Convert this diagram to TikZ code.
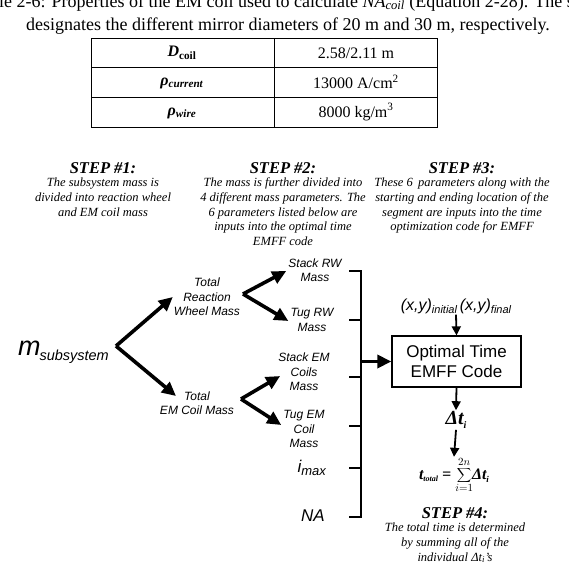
\documentclass[tikz,border=0pt]{standalone}
\usepackage{fontspec}
\setmainfont{Liberation Serif}
\setsansfont{Liberation Sans}
\usetikzlibrary{positioning, arrows.meta, calc}

\begin{document}
\begin{tikzpicture}[x=1pt, y=-1pt,
    caption text/.style={font=\fontsize{18}{20}\selectfont, inner sep=0pt},
    cell/.style={font=\fontsize{16}{18}\selectfont, inner sep=0pt},
    step head/.style={font=\fontsize{16.5}{17}\selectfont\bfseries\itshape, inner sep=0pt},
    step text/.style={font=\fontsize{12.5}{14.7}\selectfont\itshape, align=center, inner sep=0pt},
    mass node/.style={font=\sffamily\itshape\fontsize{12}{14.5}\selectfont, align=center, inner sep=1pt},
    param node/.style={font=\sffamily\itshape\fontsize{17}{18}\selectfont, inner sep=1pt},
    code box/.style={draw, line width=1.3pt, minimum width=129pt, minimum height=51pt,
        font=\sffamily\fontsize{17}{20}\selectfont, align=center},
    fat arrow/.style={-{Triangle[length=14pt, width=13pt]}, line width=3.6pt},
    thin arrow/.style={-{Triangle[length=9pt, width=9pt]}, line width=1.8pt},
    bracket/.style={line width=2.6pt}
]

\useasboundingbox (0,0) rectangle (569,568);
\clip (0,0) rectangle (569,568);

% ------------------------------------------------------------------------------
% 1. TABLE CAPTION AND TABLE
% ------------------------------------------------------------------------------
\node[caption text, anchor=base west] (cap1) at (-1,7)
    {le 2-6: Properties of the EM coil used to calculate \textit{NA\textsubscript{coil}} (Equation 2-28). The s};
\node[caption text, anchor=base] (cap2) at (288,30)
    {designates the different mirror diameters of 20 m and 30 m, respectively.};

\draw[line width=0.9pt] (91,38) rectangle (437,127);
\draw[line width=0.9pt] (274,38) -- (274,127);
\foreach \y in {67.5, 97.5} {
    \draw[line width=0.9pt] (91,\y) -- (437,\y);
}

\node[cell] (dcoil) at (182,53) {\textbf{\textit{D}}\textsubscript{\textbf{coil}}};
\node[cell] (rhocur) at (182,83) {\textbf{\textit{ρ}}\textsubscript{\textbf{\textit{current}}}};
\node[cell] (rhowire) at (182,113) {\textbf{\textit{ρ}}\textsubscript{\textbf{\textit{wire}}}};
\node[cell] (dval) at (356,53) {2.58/2.11 m};
\node[cell] (curval) at (356,82) {13000 A/cm\textsuperscript{2}};
\node[cell] (wireval) at (356,112) {8000 kg/m\textsuperscript{3}};

% ------------------------------------------------------------------------------
% 2. STEP HEADINGS
% ------------------------------------------------------------------------------
\node[step head] (s1) at (103,168) {STEP \#1:};
\node[step text, below=4pt of s1] (s1txt) {The subsystem mass is\\divided into reaction wheel\\and EM coil mass};

\node[step head] (s2) at (283,168) {STEP \#2:};
\node[step text, below=4pt of s2] (s2txt) {The mass is further divided into\\4 different mass parameters. The\\6 parameters listed below are\\inputs into the optimal time\\EMFF code};

\node[step head] (s3) at (462,168) {STEP \#3:};
\node[step text, below=4pt of s3] (s3txt) {These 6\, parameters along with the\\starting and ending location of the\\segment are inputs into the time\\optimization code for EMFF};

% ------------------------------------------------------------------------------
% 3. MASS TREE
% ------------------------------------------------------------------------------
\node[anchor=east, inner sep=1pt] (msub) at (110,352)
    {\sffamily\itshape{\fontsize{27}{27}\selectfont m}\kern-1pt\raisebox{-5pt}{\fontsize{14.5}{15}\selectfont subsystem}};

\node[mass node] (trw) at (207,297) {Total\\Reaction\\Wheel Mass};
\node[mass node] (temc) at (197,403) {Total\\EM Coil Mass};

\node[mass node] (srw) at (315,270) {Stack RW\\Mass};
\node[mass node] (tgrw) at (312,320) {Tug RW\\Mass};
\node[mass node] (semc) at (304,372) {Stack EM\\Coils\\Mass};
\node[mass node] (tgemc) at (304,429) {Tug EM\\Coil\\Mass};
\node[param node] (imax) at (312,468) {i\textsubscript{\fontsize{13}{13}\selectfont max}};
\node[param node] (na) at (313,516) {NA};

\coordinate (fork1) at (116,346);
\coordinate (fork2) at (243,294);
\coordinate (fork3) at (241,399);
\coordinate (tip temc) at (176,396);

\draw[fat arrow] (fork1) -- (trw.west);
\draw[fat arrow] (fork1) -- (tip temc);
\draw[fat arrow] (fork2) -- ($(srw.west)+(-1,1)$);
\draw[fat arrow] (fork2) -- ($(tgrw.west)+(-1,1)$);
\draw[fat arrow] (fork3) -- ($(semc.west)+(3,4)$);
\draw[fat arrow] (fork3) -- ($(tgemc.west)+(-1,-4)$);

% ------------------------------------------------------------------------------
% 4. BRACKET AND OPTIMISATION CODE
% ------------------------------------------------------------------------------
\draw[bracket] (349,271) -- (361,271) -- (361,517) -- (349,517);
\foreach \y in {320, 377, 426, 468} {
    \draw[bracket] (349,\y) -- (361,\y);
}

\node[code box] (code) at (456.5,361.5) {Optimal Time\\EMFF Code};
\coordinate (brk) at (361,361.5);
\draw[fat arrow] (brk) -- (code.west);

\node[inner sep=1pt] (xy) at (456,306)
    {\sffamily\itshape{\fontsize{16}{16}\selectfont (x,y)}\raisebox{-3pt}{\fontsize{11}{11}\selectfont initial}
     {\fontsize{16}{16}\selectfont (x,y)}\raisebox{-3pt}{\fontsize{11}{11}\selectfont final}};
\draw[thin arrow] (xy.south) -- (code.north);

\node[inner sep=1pt, font=\fontsize{20}{20}\selectfont\bfseries\itshape] (dt) at (456,420)
    {Δt\raisebox{-4pt}{\fontsize{10}{10}\selectfont i}};
\draw[thin arrow] (code.south) -- (dt.north);

\node[inner sep=0pt, font=\fontsize{16}{16}\selectfont\bfseries\itshape] (ttot) at (454,475)
    {t\raisebox{-2pt}{\fontsize{8}{8}\selectfont total} = $\displaystyle\sum_{i=1}^{2n}$\kern-1pt Δt\raisebox{-3pt}{\fontsize{9}{9}\selectfont i}};
\draw[thin arrow] (dt.south) -- (ttot.north);

% ------------------------------------------------------------------------------
% 5. STEP 4
% ------------------------------------------------------------------------------
\node[step head] (s4) at (455,513) {STEP \#4:};
\node[step text, below=4pt of s4] (s4txt) {The total time is determined\\by summing all of the\\individual Δt\textsubscript{i}'s};

\end{tikzpicture}
\end{document}
